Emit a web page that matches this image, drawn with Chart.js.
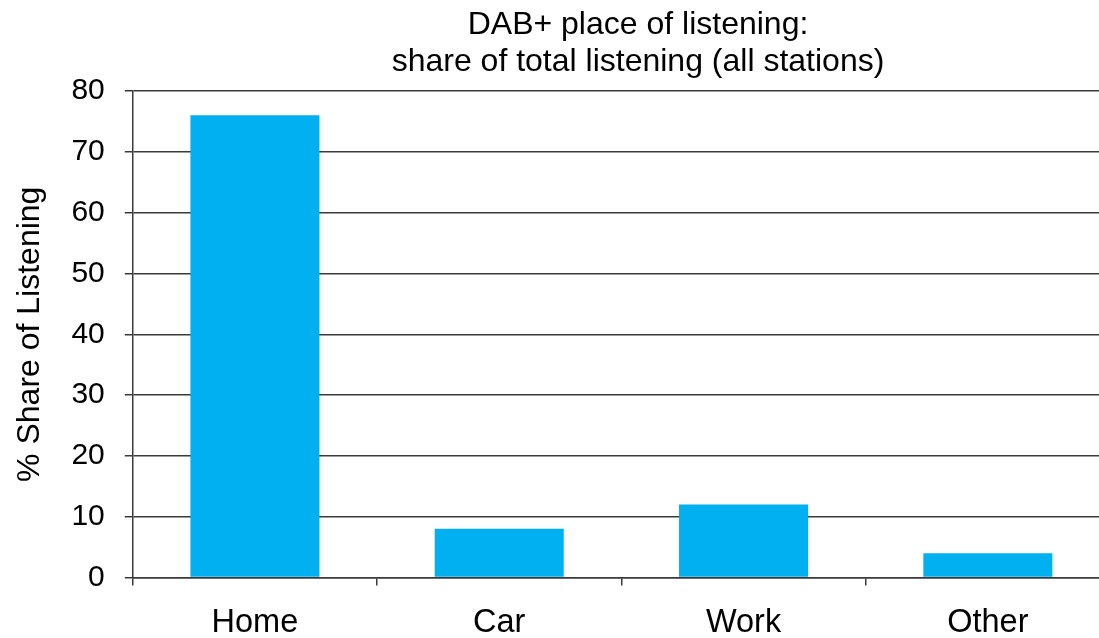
<!DOCTYPE html>
<html>
<head>
<meta charset="utf-8">
<script src="https://cdn.jsdelivr.net/npm/chart.js@4"></script>
<style>
  html, body { margin: 0; padding: 0; background: #fff; overflow: hidden; }
  /* the original plot runs a little past the right edge of the picture */
  #wrap { width: 1110px; height: 638px; position: relative; }
</style>
</head>
<body>
<div id="wrap"><canvas id="chart"></canvas></div>
<script>
const places = ["Home", "Car", "Work", "Other"];
const shares = [76, 8, 12, 4];
const titleLines = ["DAB+ place of listening:", "share of total listening (all stations)"];
const yTitle = "% Share of Listening";

const FONT = "'Liberation Sans', Arial, sans-serif";
const ink = "#000";
const lineColor = "#3a3a3a";

// title is drawn by hand so it can sit off-centre like the original
const titlePlugin = {
  id: "twoLineTitle",
  afterDraw(chart) {
    const ctx = chart.ctx;
    ctx.save();
    ctx.font = "32px " + FONT;
    ctx.fillStyle = ink;
    ctx.textAlign = "center";
    ctx.textBaseline = "middle";
    ctx.fillText(titleLines[0], 638, 25);
    ctx.fillText(titleLines[1], 638, 62);
    ctx.restore();
  }
};

new Chart(document.getElementById("chart"), {
  type: "bar",
  data: {
    labels: places,
    datasets: [{
      data: shares,
      backgroundColor: "#00B0F0",
      borderWidth: 0,
      categoryPercentage: 1,
      barPercentage: 0.528
    }]
  },
  options: {
    responsive: true,
    maintainAspectRatio: false,
    animation: false,
    // chart.js counts tick padding twice when fitting, bottom is pulled back
    layout: { padding: { top: 91, left: 0, right: 0, bottom: -22 } },
    plugins: {
      legend: { display: false },
      tooltip: { enabled: false },
      title: { display: false }
    },
    scales: {
      x: {
        grid: {
          display: true,
          offset: true,
          drawOnChartArea: false,
          drawTicks: true,
          tickLength: 8,
          color: lineColor,
          lineWidth: 1.5
        },
        border: { display: true, color: lineColor, width: 1.5 },
        ticks: {
          color: ink,
          padding: 21,
          font: { family: FONT, size: 32.5, lineHeight: 1.0 },
          maxRotation: 0
        }
      },
      y: {
        min: 0,
        max: 80,
        ticks: {
          stepSize: 10,
          color: ink,
          padding: 20,
          font: { family: FONT, size: 30 }
        },
        grid: {
          color: lineColor,
          lineWidth: 1.5,
          tickLength: 8
        },
        border: { display: true, color: lineColor, width: 1.5 },
        title: {
          display: true,
          text: yTitle,
          color: ink,
          font: { family: FONT, size: 32 },
          padding: { top: 11, bottom: 2 }
        }
      }
    }
  },
  plugins: [titlePlugin]
});
</script>
</body>
</html>
